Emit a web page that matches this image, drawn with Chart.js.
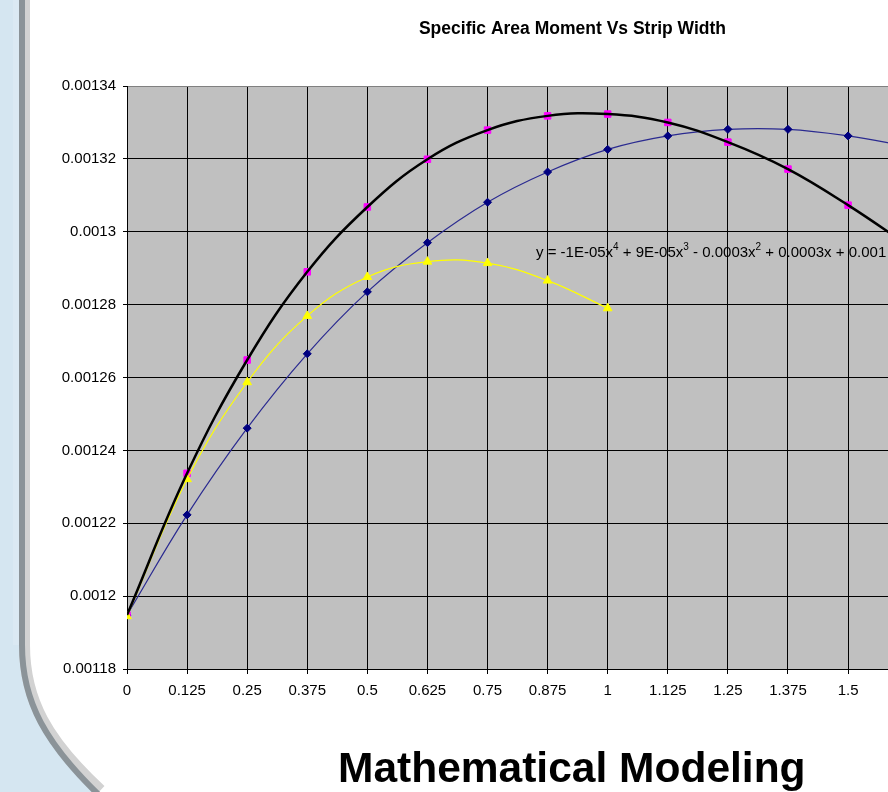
<!DOCTYPE html>
<html><head><meta charset="utf-8">
<script src="https://cdn.jsdelivr.net/npm/chart.js@4.4.1/dist/chart.umd.min.js"></script>
<style>
html,body{margin:0;padding:0;width:888px;height:792px;overflow:hidden;background:#fff;}
#wrap{position:relative;width:888px;height:792px;overflow:hidden;background:#fff;}
#c{position:absolute;left:0;top:0;}
#deco{position:absolute;left:0;top:0;}
#caption{position:absolute;left:338px;top:747px;font:bold 42.5px "Liberation Sans",Arial,sans-serif;line-height:42.5px;white-space:nowrap;color:#000;}
</style></head>
<body><div id="wrap">
<canvas id="c" width="1040" height="720"></canvas>
<svg id="deco" width="888" height="792">
  <path d="M19,0 V645 C19,702 43,744 97,794" fill="none" stroke="#d2d2d2" stroke-width="22"/>
  <path d="M0,0 H19 V645 C19,702 43,744 97,794 H0 Z" fill="#d5e6f1"/>
  <rect x="13" y="0" width="6" height="645" fill="#dbe9f3"/>
  <path d="M22,0 V645 C22,702 46,744 100,796" fill="none" stroke="#8b9398" stroke-width="6"/>
</svg>
<div id="caption">Mathematical Modeling</div>
</div>
<script>
// ---- data ----
const xValues = [0, 0.125, 0.25, 0.375, 0.5, 0.625, 0.75, 0.875, 1, 1.125, 1.25, 1.375, 1.5, 1.625];
const blueSeries = [0.0011948, 0.0012223, 0.0012461, 0.0012665, 0.0012835, 0.0012970, 0.0013081, 0.0013164, 0.0013226, 0.0013263, 0.0013281, 0.0013281, 0.0013263, 0.0013234];
const magentaSeries = [0.0011948, 0.0012337, 0.0012648, 0.0012890, 0.0013068, 0.0013199, 0.0013279, 0.0013318, 0.0013323, 0.0013300, 0.0013246, 0.0013172, 0.0013073, 0.0012962];
const yellowX = [0, 0.125, 0.25, 0.375, 0.5, 0.625, 0.75, 0.875, 1];
const yellowSeries = [0.0011945, 0.0012321, 0.0012587, 0.0012769, 0.0012876, 0.0012918, 0.0012914, 0.0012866, 0.0012790];
const xTickValues = [0, 0.125, 0.25, 0.375, 0.5, 0.625, 0.75, 0.875, 1, 1.125, 1.25, 1.375, 1.5, 1.625, 1.75];
const xTickLabels = ['0', '0.125', '0.25', '0.375', '0.5', '0.625', '0.75', '0.875', '1', '1.125', '1.25', '1.375', '1.5', '1.625', '1.75'];
const yTickValues = [0.00118, 0.0012, 0.00122, 0.00124, 0.00126, 0.00128, 0.0013, 0.00132, 0.00134];
const yTickLabels = ['0.00118', '0.0012', '0.00122', '0.00124', '0.00126', '0.00128', '0.0013', '0.00132', '0.00134'];
const titleText = 'Specific Area Moment Vs Strip Width';
const equationParts = [['y = -1E-05x', false], ['4', true], [' + 9E-05x', false], ['3', true], [' - 0.0003x', false], ['2', true], [' + 0.0003x + 0.001', false]];

const FONT = '"Liberation Sans", Arial, sans-serif';
const pts = (xs, ys) => xs.map((x, i) => ({x: x, y: ys[i]}));

const plotBg = {
  id: 'plotBg',
  beforeDraw(chart) {
    const {ctx, chartArea: a} = chart;
    ctx.save();
    ctx.fillStyle = '#ffffff';
    ctx.fillRect(0, 0, chart.width, chart.height);
    ctx.fillStyle = '#c0c0c0';
    ctx.fillRect(a.left, a.top, a.right - a.left, a.bottom - a.top);
    ctx.restore();
  }
};

const equationLabel = {
  id: 'equationLabel',
  afterDatasetsDraw(chart) {
    const {ctx, chartArea: a} = chart;
    ctx.save();
    ctx.fillStyle = '#000';
    ctx.textBaseline = 'alphabetic';
    ctx.textAlign = 'left';
    let x = a.left + 409;
    const y = a.top + 170.5;
    equationParts.forEach(([t, sup]) => {
      ctx.font = (sup ? '10px ' : '15px ') + FONT;
      ctx.fillText(t, x, sup ? y - 7 : y);
      x += ctx.measureText(t).width;
    });
    ctx.restore();
  }
};

new Chart(document.getElementById('c'), {
  type: 'line',
  data: {
    datasets: [
      {
        label: 'Trend', data: pts(xValues, magentaSeries),
        borderColor: '#000000', borderWidth: 2.5, pointRadius: 0, tension: 0.4, fill: false, order: 1
      },
      {
        label: 'Series 3', data: pts(yellowX, yellowSeries),
        borderColor: '#ffff00', borderWidth: 1.2, tension: 0.4, fill: false,
        pointStyle: 'triangle', pointRadius: 5, pointBackgroundColor: '#ffff00', pointBorderColor: '#ffff00',
        pointBorderWidth: 1, order: 2
      },
      {
        label: 'Series 2', data: pts(xValues, magentaSeries), showLine: false,
        pointStyle: 'rect', pointRadius: 4.6, pointBackgroundColor: '#ff00ff', pointBorderColor: '#ff00ff',
        pointBorderWidth: 1, order: 3
      },
      {
        label: 'Series 1', data: pts(xValues, blueSeries),
        borderColor: '#2a2a90', borderWidth: 1.2, tension: 0.4, fill: false,
        pointStyle: 'rectRot', pointRadius: 4, pointBackgroundColor: '#000080', pointBorderColor: '#000080',
        pointBorderWidth: 1, order: 4
      }
    ]
  },
  options: {
    responsive: false,
    animation: false,
    devicePixelRatio: 1,
    layout: {padding: {left: 0, right: 22, top: 0, bottom: 0}},
    plugins: {
      legend: {display: false},
      tooltip: {enabled: false},
      title: {
        display: true, text: titleText, fullSize: false, color: '#000',
        font: {family: FONT, size: 17.5, weight: 'bold', lineHeight: 1.2},
        padding: {top: 19, bottom: 46}
      }
    },
    scales: {
      x: {
        type: 'linear', min: 0, max: 1.8535,
        afterBuildTicks: s => { s.ticks = xTickValues.map(v => ({value: v})); },
        afterFit: s => { s.height = 51; },
        ticks: {
          callback: (v, i) => xTickLabels[i], color: '#000', padding: 8,
          font: {family: FONT, size: 15}, maxRotation: 0, autoSkip: false
        },
        grid: {color: '#000', lineWidth: 1, tickLength: 5, tickColor: '#000'},
        border: {display: true, color: '#000', width: 1}
      },
      y: {
        type: 'linear', min: 0.00118, max: 0.00134,
        afterBuildTicks: s => { s.ticks = yTickValues.map(v => ({value: v})); },
        afterFit: s => { s.width = 127; },
        ticks: {
          callback: (v, i) => yTickLabels[i], color: '#000', padding: 7,
          font: {family: FONT, size: 15}, autoSkip: false
        },
        grid: {
          color: c => (c.index === yTickValues.length - 1 ? '#808080' : '#000'),
          lineWidth: 1, tickLength: 4, tickColor: '#000'
        },
        border: {display: true, color: '#000', width: 1}
      }
    }
  },
  plugins: [plotBg, equationLabel]
});
</script>
</body></html>
